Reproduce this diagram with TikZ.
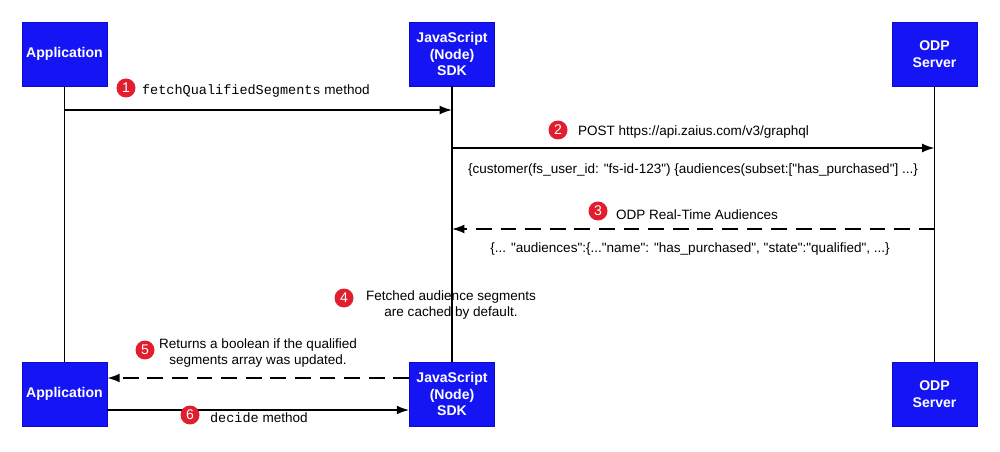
\documentclass[tikz,border=0pt]{standalone}
\usepackage{fontspec}
\setmainfont{Liberation Sans}
\setmonofont{Liberation Mono}
\usetikzlibrary{arrows.meta}
\newcommand\qq{\textquotedbl}
\begin{document}
\begin{tikzpicture}[x=0.02cm,y=-0.02cm,
  box/.style={fill={rgb,255:red,20;green,20;blue,245},draw={rgb,255:red,10;green,10;blue,200},minimum width=1.7cm,minimum height=1.28cm,inner sep=1pt,text=white,font=\fontsize{8}{9.5}\selectfont\bfseries,align=center},
  life/.style={line width=0.9pt},
  msg/.style={line width=0.9pt,-{Latex[length=7pt,width=5pt]}},
  dmsg/.style={msg,dash pattern=on 9pt off 5pt},
  num/.style={circle,fill={rgb,255:red,225;green,30;blue,45},text=white,inner sep=0pt,minimum size=0.38cm,font=\fontsize{8}{9}\selectfont},
  lbl/.style={font=\fontsize{7.7}{9.5}\selectfont,align=center,inner sep=1pt}]
\useasboundingbox (0,0) rectangle (1000,452);
\node[box] (a1) at (64.5,54) {Application};
\node[box] (j1) at (452,54) {JavaScript\\(Node)\\SDK};
\node[box] (o1) at (934.5,54) {ODP\\Server};
\node[box] (a2) at (64.5,394) {Application};
\node[box] (j2) at (452,394) {JavaScript\\(Node)\\SDK};
\node[box] (o2) at (934.5,394) {ODP\\Server};
\draw[life] (a1) -- (a2);
\draw[life] (j1) -- (j2);
\draw[life] (o1) -- (o2);
\coordinate (p1a) at (64.5,110); \coordinate (p1b) at (452,110);
\draw[msg] (p1a) -- (p1b);
\node[num] (n1) at (126,88) {1};
\node[lbl,anchor=west] (l1) at (140,91) {\texttt{fetchQualifiedSegments} method};
\coordinate (p2a) at (452,148); \coordinate (p2b) at (934.5,148);
\draw[msg] (p2a) -- (p2b);
\node[num] (n2) at (558,130) {2};
\node[lbl,anchor=west] (l2) at (576,132) {POST https://api.zaius.com/v3/graphql};
\node[lbl] (l2b) at (693,170) {\{customer(fs\_user\_id: \qq fs-id-123\qq) \{audiences(subset:[\qq has\_purchased\qq] ...\}};
\coordinate (p3a) at (934.5,229); \coordinate (p3b) at (452,229);
\draw[dmsg] (p3a) -- (p3b);
\node[num] (n3) at (598,211) {3};
\node[lbl,anchor=west] (l3) at (614,215) {ODP Real-Time Audiences};
\node[lbl] (l3b) at (690,249) {\{... \qq audiences\qq:\{...\qq name\qq: \qq has\_purchased\qq, \qq state\qq:\qq qualified\qq, ...\}};
\node[num] (n4) at (344,298) {4};
\node[lbl] (l4) at (451,305) {Fetched audience segments\\are cached by default.};
\draw[dmsg] (j2.west|-0,378) -- (a2.east|-0,378);
\node[num] (n5) at (145,350) {5};
\node[lbl] (l5) at (258,353) {Returns a boolean if the qualified\\segments array was updated.};
\draw[msg] (a2.east|-0,410) -- (j2.west|-0,410);
\node[num] (n6) at (190,415) {6};
\node[lbl,anchor=west] (l6) at (208,418) {\texttt{decide} method};
\end{tikzpicture}
\end{document}
